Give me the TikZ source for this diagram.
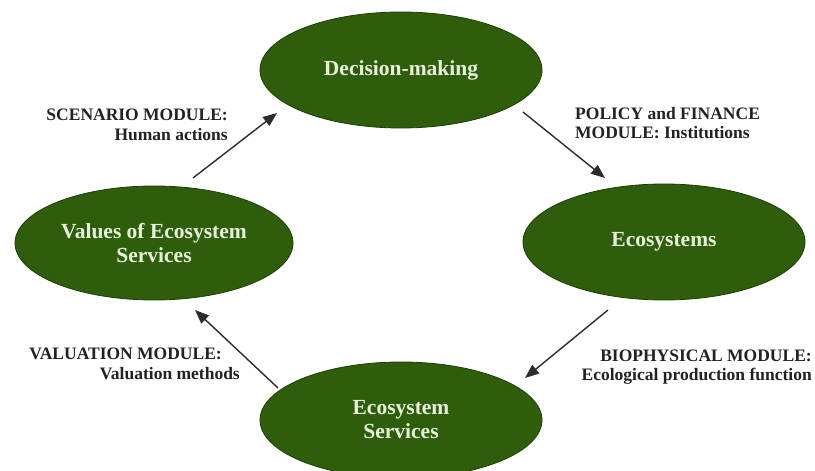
\documentclass[tikz,border=0pt]{standalone}
\usepackage{fontspec}
\setmainfont{Liberation Serif}
\usetikzlibrary{arrows.meta,shapes.geometric}
\definecolor{ellfill}{RGB}{46,94,12}
\definecolor{elldraw}{RGB}{30,62,8}
\definecolor{elltext}{RGB}{232,240,218}
\definecolor{labtext}{RGB}{34,34,34}
\definecolor{arrcol}{RGB}{45,45,45}
\tikzset{
  ell/.style={ellipse, fill=ellfill, draw=elldraw, line width=0.8pt,
    minimum width=282pt, minimum height=116pt, inner sep=0pt,
    text=elltext, align=center,
    font=\fontsize{21.5}{24}\selectfont\bfseries},
  lab/.style={inner sep=0pt, text=labtext,
    font=\fontsize{17.5}{19.5}\selectfont\bfseries},
  arr/.style={draw=arrcol, line width=1.4pt,
    -{Triangle[length=14pt,width=11pt]}}
}
\begin{document}
\begin{tikzpicture}[x=1pt,y=-1pt]
\useasboundingbox (0,0) rectangle (815,471);
\fill[white] (0,0) rectangle (815,471);

\node[ell] (dec) at (401,70) {Decision-making};
\node[ell] (eco) at (664,242) {Ecosystems};
\node[ell, minimum width=278pt, minimum height=114pt] (val) at (154,243) {Values of Ecosystem\\Services};
\node[ell] (ess) at (401,420) {Ecosystem\\Services};

\node[lab, anchor=east, align=right] (lscen) at (228,125) {SCENARIO MODULE:\\Human actions};
\node[lab, anchor=west, align=left] (lpol) at (575,123) {POLICY and FINANCE\\MODULE: Institutions};
\node[lab, anchor=east, align=right] (lbio) at (812,367) {BIOPHYSICAL MODULE:\\Ecological production function};
\node[lab, anchor=east, align=right] (lval) at (240,364) {VALUATION MODULE:\hspace*{18pt}\\Valuation methods};

\coordinate (s1) at (193,178);
\coordinate (s2) at (277,113);
\coordinate (p1) at (523,112);
\coordinate (p2) at (605,178);
\coordinate (b1) at (608,310);
\coordinate (b2) at (525,378);
\coordinate (v1) at (278,388);
\coordinate (v2) at (195,310);

\draw[arr] (s1) -- (s2);
\draw[arr] (p1) -- (p2);
\draw[arr] (b1) -- (b2);
\draw[arr] (v1) -- (v2);
\end{tikzpicture}
\end{document}
